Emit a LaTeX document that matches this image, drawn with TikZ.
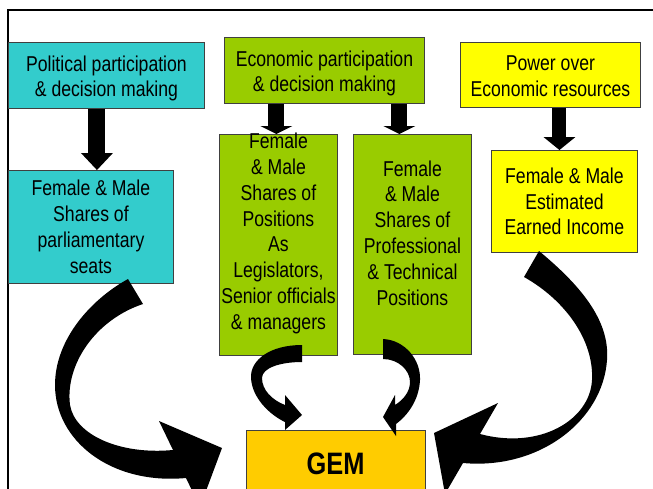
\documentclass[tikz,border=0pt]{standalone}
\usepackage{fontspec}
\setmainfont{Liberation Sans}[FakeStretch=0.82]
\usetikzlibrary{arrows.meta}
\definecolor{cyanbox}{HTML}{33CCCC}
\definecolor{greenbox}{HTML}{99CC00}
\definecolor{yellowbox}{HTML}{FFFF00}
\definecolor{gembox}{HTML}{FFCC00}
\begin{document}
\begin{tikzpicture}[x=1pt,y=-1pt,
  box/.style={draw=black!75, line width=0.9pt, inner sep=0pt, anchor=north west},
  txt/.style={inner sep=0pt, align=center, font=\fontsize{21.5}{25.8}\selectfont},
  dnarrow/.style={draw=black, line cap=butt},
  bigarrow/.style={fill=black}]
\useasboundingbox (0,0) rectangle (653,488);
\clip (0,0) rectangle (653,488);
% frame
\draw[line width=2.5pt] (8,500) -- (8,10) -- (660,10);
% boxes
\node[box, fill=cyanbox, minimum width=196pt, minimum height=66pt] (A) at (8,42) {};
\node[txt, yshift=-3pt] (At) at (A.center) {Political participation\\\& decision making};
\node[box, fill=greenbox, minimum width=200pt, minimum height=66pt] (B) at (224,37) {};
\node[txt, yshift=-3pt] (Bt) at (B.center) {Economic participation\\\& decision making};
\node[box, fill=yellowbox, minimum width=180pt, minimum height=65pt] (C) at (460,42) {};
\node[txt, yshift=-1.5pt] (Ct) at (C.center) {Power over\\Economic resources};
\node[box, fill=cyanbox, minimum width=165pt, minimum height=113pt] (D) at (8,170) {};
\node[txt] (Dt) at (D.center) {Female \& Male\\Shares of\\parliamentary\\seats};
\node[box, fill=greenbox, minimum width=118pt, minimum height=221pt] (E) at (219,134) {};
\node[txt, yshift=11.5pt] (Et) at (E.center)
  {Female\\\& Male\\Shares of\\Positions\\As\\Legislators,\\Senior officials\\\& managers};
\node[box, fill=greenbox, minimum width=118pt, minimum height=220pt] (F) at (353,134) {};
\node[txt, yshift=11.5pt] (Ft) at (F.center)
  {Female\\\& Male\\Shares of\\Professional\\\& Technical\\Positions};
\node[box, fill=yellowbox, minimum width=146pt, minimum height=102pt] (G) at (491,150) {};
\node[txt] (Gt) at (G.center) {Female \& Male\\Estimated\\Earned Income};
\node[box, fill=gembox, minimum width=179pt, minimum height=80pt] (H) at (246,430) {};
\node[inner sep=0pt, font=\fontsize{31}{37}\selectfont\bfseries] (Ht) at (335.5,463.5) {GEM};
% straight block arrows
\draw[dnarrow, line width=17pt, -{Triangle[width=32pt,length=17pt,line width=0pt]}]
  ([xshift=-9.5pt]A.south) -- ([xshift=6pt]D.north);
\draw[dnarrow, line width=16pt, -{Triangle[width=32pt,length=8pt,line width=0pt]}]
  ([xshift=-48pt]B.south) -- ([xshift=-2pt]E.north);
\draw[dnarrow, line width=16pt, -{Triangle[width=32pt,length=8pt,line width=0pt]}]
  ([xshift=75pt]B.south) -- ([xshift=-13pt]F.north);
\draw[dnarrow, line width=14pt, -{Triangle[width=32pt,length=13pt,line width=0pt]}]
  ([xshift=9pt]C.south) -- ([xshift=-5pt]G.north);
% big curved arrow from D to GEM
\fill[bigarrow] (128,279) .. controls (90,300) and (55,340) .. (55,385)
  .. controls (55,440) and (110,485) .. (186,478)
  -- (200,507) -- (222,448) -- (159,421) -- (173,450)
  .. controls (120,455) and (75,435) .. (70,405)
  .. controls (65,365) and (95,320) .. (143,304) -- cycle;
% big curved arrow from G to GEM
\fill[bigarrow] (539,251) .. controls (580,285) and (610,320) .. (607,360)
  .. controls (603,420) and (540,470) .. (463,463)
  -- (445,494) -- (434,433) -- (498,403) -- (480,434)
  .. controls (540,450) and (590,420) .. (592,380)
  .. controls (594,340) and (565,300) .. (524,277) -- cycle;
% small curved arrow from E to GEM
\fill[bigarrow] (302,345) .. controls (270,345) and (250,360) .. (251,378)
  .. controls (252,398) and (270,415) .. (285,422)
  -- (285,430) -- (302,415) -- (285,395) -- (285,405)
  .. controls (272,400) and (262,390) .. (262,378)
  .. controls (262,368) and (280,362) .. (302,362) -- cycle;
% small curved arrow from F to GEM
\fill[bigarrow] (383,339) .. controls (405,340) and (421,360) .. (420,380)
  .. controls (419,400) and (408,415) .. (396,424)
  -- (396,436) -- (383,417) -- (395,395) -- (395,405)
  .. controls (403,400) and (410,392) .. (410,382)
  .. controls (410,370) and (398,359) .. (383,359) -- cycle;
\end{tikzpicture}
\end{document}
